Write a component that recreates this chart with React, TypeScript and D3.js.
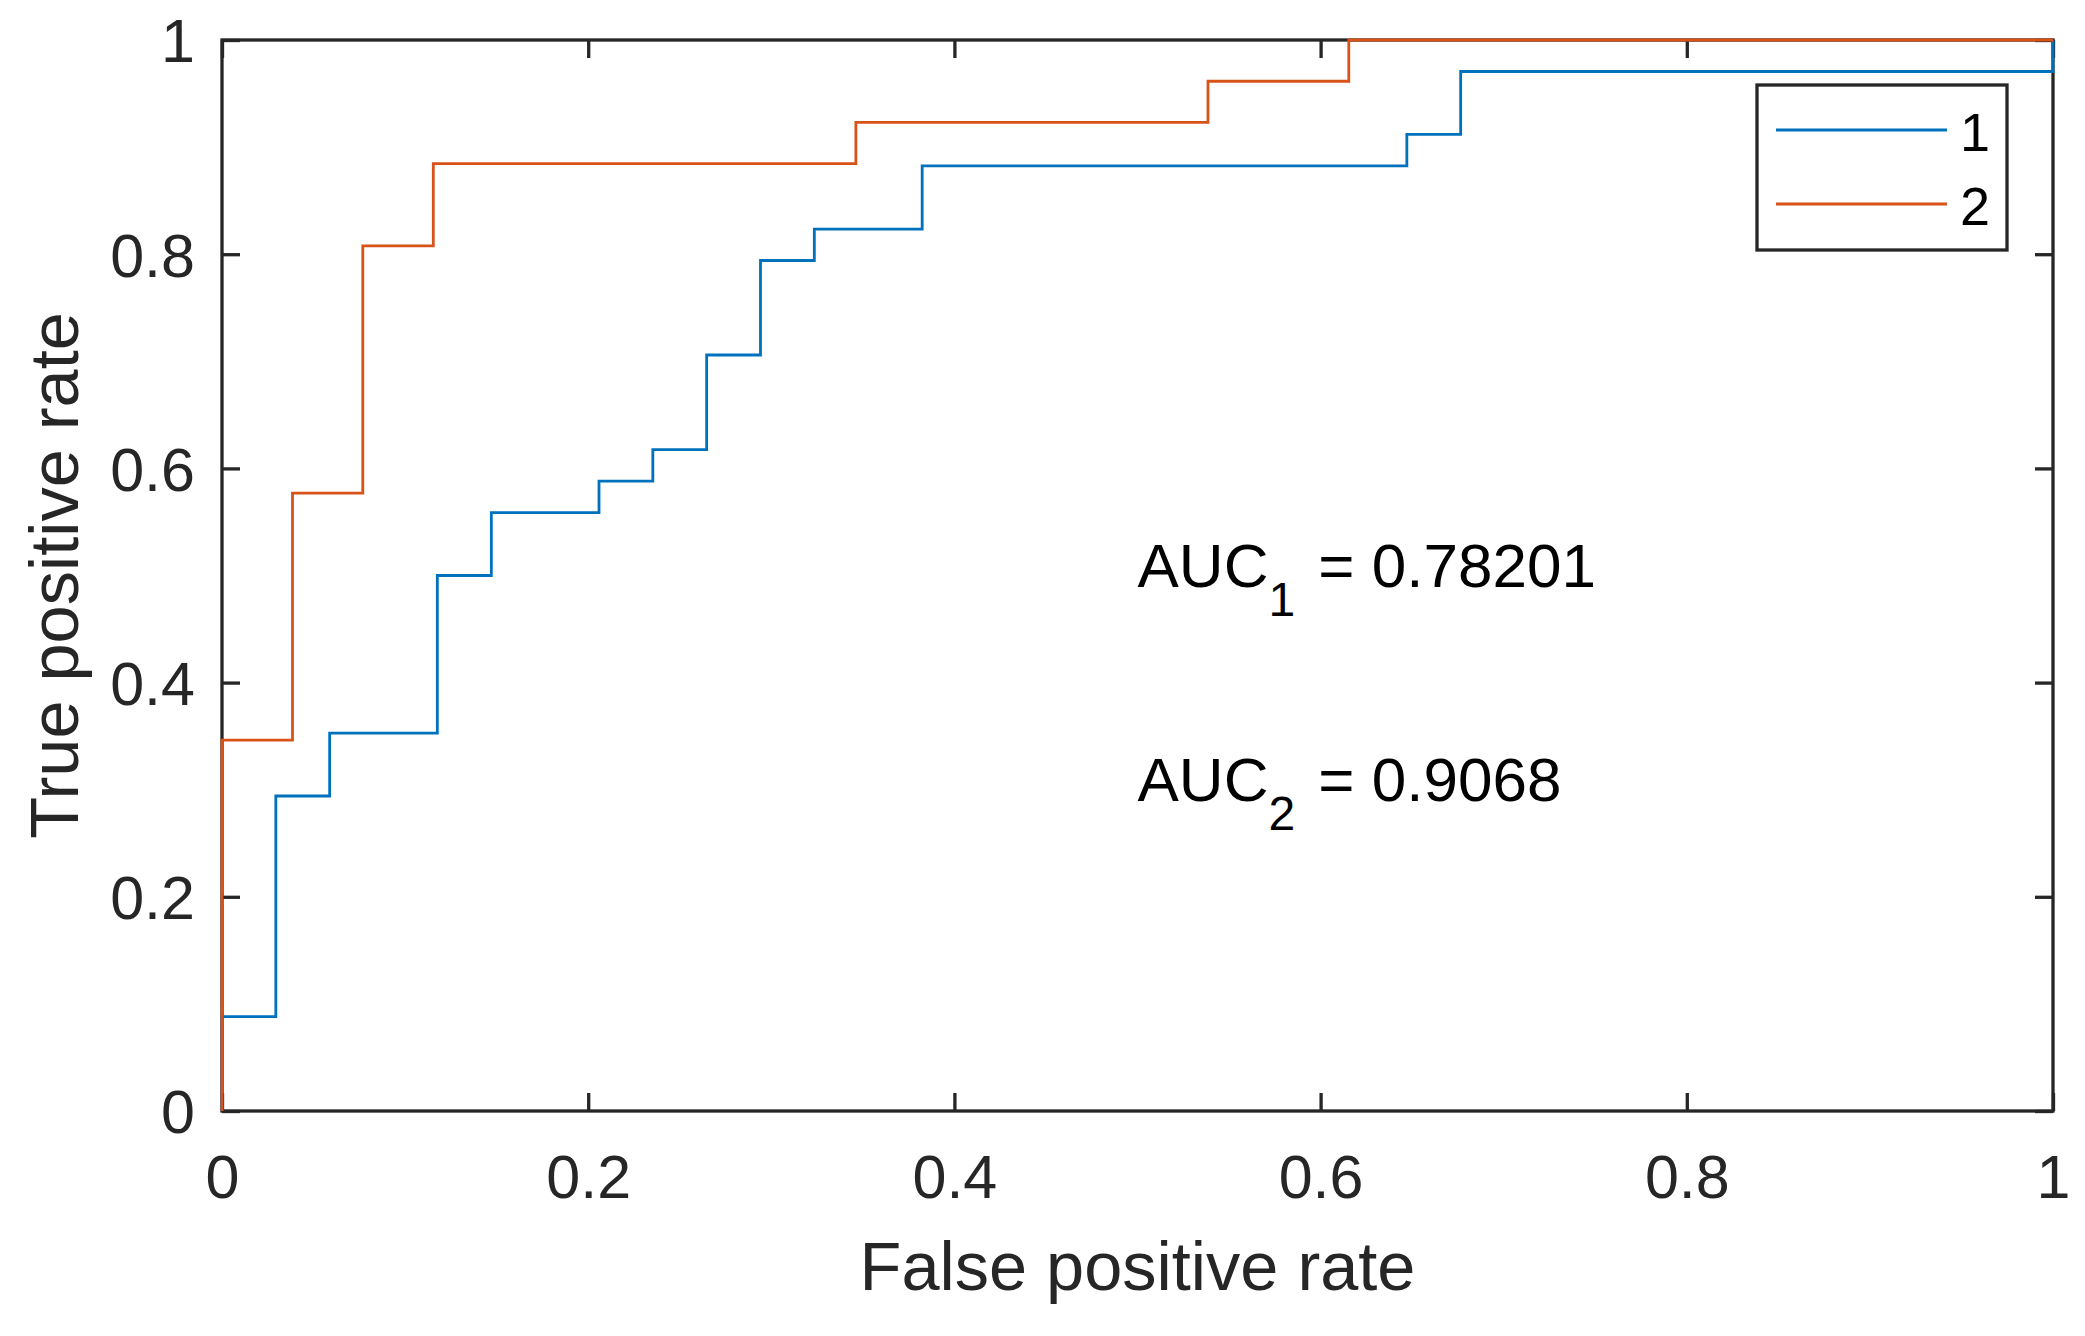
import React, {useEffect, useRef} from 'react';
import * as d3 from 'd3';

// ROC staircase vertices (false positive rate, true positive rate)
const fpr1 = [0, 0, 0.0294, 0.0588, 0.1176, 0.1471, 0.2059, 0.2353, 0.2647, 0.2941, 0.3235, 0.3824, 0.6471, 0.6765, 1];
const tpr1 = [0, 0.0882, 0.2941, 0.3529, 0.5, 0.5588, 0.5882, 0.6176, 0.7059, 0.7941, 0.8235, 0.8824, 0.9118, 0.9706, 1];
const fpr2 = [0, 0, 0.0385, 0.0769, 0.1154, 0.3462, 0.5385, 0.6154, 1];
const tpr2 = [0, 0.3462, 0.5769, 0.8077, 0.8846, 0.9231, 0.9615, 1, 1];

const seriesNames = ['1', '2'];
const seriesColors = ['#0072BD', '#D95319'];
const tickValues = [0, 0.2, 0.4, 0.6, 0.8, 1];
const aucValues = ['0.78201', '0.9068'];
const aucAnchorY = [0.5, 0.3]; // data y where the AUC text sits (x = 0.5)

const W = 2085;
const H = 1336;
const left = 222, right = 2053, top = 40, bottom = 1111;
const axisColor = '#262626';
const font = '"Liberation Sans", Arial, Helvetica, sans-serif';

const App = (): JSX.Element => {
    const svgRef = useRef<SVGSVGElement>(null);

    useEffect(() => {
        const svg = d3.select(svgRef.current);
        svg.selectAll('*').remove();

        const x = d3.scaleLinear().domain([0, 1]).range([left, right]);
        const y = d3.scaleLinear().domain([0, 1]).range([bottom, top]);
        const fmt = d3.format('~g');

        svg.append('rect').attr('width', W).attr('height', H).attr('fill', '#fff');

        // axes box
        svg.append('rect')
            .attr('x', left).attr('y', top)
            .attr('width', right - left).attr('height', bottom - top)
            .attr('fill', 'none').attr('stroke', axisColor).attr('stroke-width', 3.3);

        const styleAxis = (g: any) => {
            g.select('.domain').remove();
            g.selectAll('.tick line').attr('stroke', axisColor).attr('stroke-width', 3.3);
            g.selectAll('.tick text').attr('fill', axisColor).attr('font-size', 61).attr('font-family', font);
        };

        svg.append('g').attr('transform', `translate(0,${bottom})`)
            .call(d3.axisBottom(x).tickValues(tickValues).tickFormat(fmt as any).tickSize(-18).tickPadding(44))
            .call(styleAxis);
        svg.append('g').attr('transform', `translate(0,${top})`)
            .call(d3.axisTop(x).tickValues(tickValues).tickFormat(() => '').tickSize(-18))
            .call(styleAxis);
        svg.append('g').attr('transform', `translate(${left},0)`)
            .call(d3.axisLeft(y).tickValues(tickValues).tickFormat(fmt as any).tickSize(-18).tickPadding(27))
            .call(styleAxis)
            .selectAll('.tick text').attr('dy', '0.36em');
        svg.append('g').attr('transform', `translate(${right},0)`)
            .call(d3.axisRight(y).tickValues(tickValues).tickFormat(() => '').tickSize(-18))
            .call(styleAxis);

        // ROC curves
        const lineGen = d3.line<[number, number]>()
            .x(d => x(d[0]))
            .y(d => y(d[1]))
            .curve(d3.curveStepAfter);
        const series: [number, number][][] = [
            fpr1.map((v, i) => [v, tpr1[i]]),
            fpr2.map((v, i) => [v, tpr2[i]]),
        ];
        svg.selectAll('.roc')
            .data(series)
            .join('path')
            .attr('class', 'roc')
            .attr('d', d => lineGen(d))
            .attr('fill', 'none')
            .attr('stroke', (d, i) => seriesColors[i])
            .attr('stroke-width', 2.8)
            .attr('stroke-linejoin', 'miter');

        // axis labels
        svg.append('text')
            .attr('x', (left + right) / 2).attr('y', 1290)
            .attr('text-anchor', 'middle')
            .attr('font-family', font).attr('font-size', 68.5).attr('fill', axisColor)
            .text('False positive rate');
        svg.append('text')
            .attr('transform', `translate(78,${(top + bottom) / 2}) rotate(-90)`)
            .attr('text-anchor', 'middle')
            .attr('font-family', font).attr('font-size', 68.5).attr('fill', axisColor)
            .text('True positive rate');

        // AUC annotations
        aucValues.forEach((v, i) => {
            const t = svg.append('text')
                .attr('x', x(0.5)).attr('y', y(aucAnchorY[i]) + 11)
                .attr('font-family', font).attr('font-size', 62).attr('fill', '#000');
            t.append('tspan').text('AUC');
            t.append('tspan').attr('dy', 29).attr('font-size', 48).text(String(i + 1));
            t.append('tspan').attr('dy', -29).attr('dx', 6).text(` = ${v}`);
        });

        // legend
        const lg = svg.append('g');
        lg.append('rect')
            .attr('x', 1757).attr('y', 85).attr('width', 250).attr('height', 165)
            .attr('fill', '#fff').attr('stroke', axisColor).attr('stroke-width', 3.3);
        seriesNames.forEach((name, i) => {
            const ly = 130 + i * 74;
            lg.append('line')
                .attr('x1', 1776).attr('x2', 1947).attr('y1', ly).attr('y2', ly)
                .attr('stroke', seriesColors[i]).attr('stroke-width', 3.2);
            lg.append('text')
                .attr('x', 1960).attr('y', ly + 21)
                .attr('font-family', font).attr('font-size', 54).attr('fill', '#000')
                .text(name);
        });
    }, []);

    return (
        <svg
            ref={svgRef}
            width={W}
            height={H}
            viewBox={`0 0 ${W} ${H}`}
            style={{position: 'absolute', left: 0, top: 0, display: 'block'}}
        />
    );
};

export default App;
